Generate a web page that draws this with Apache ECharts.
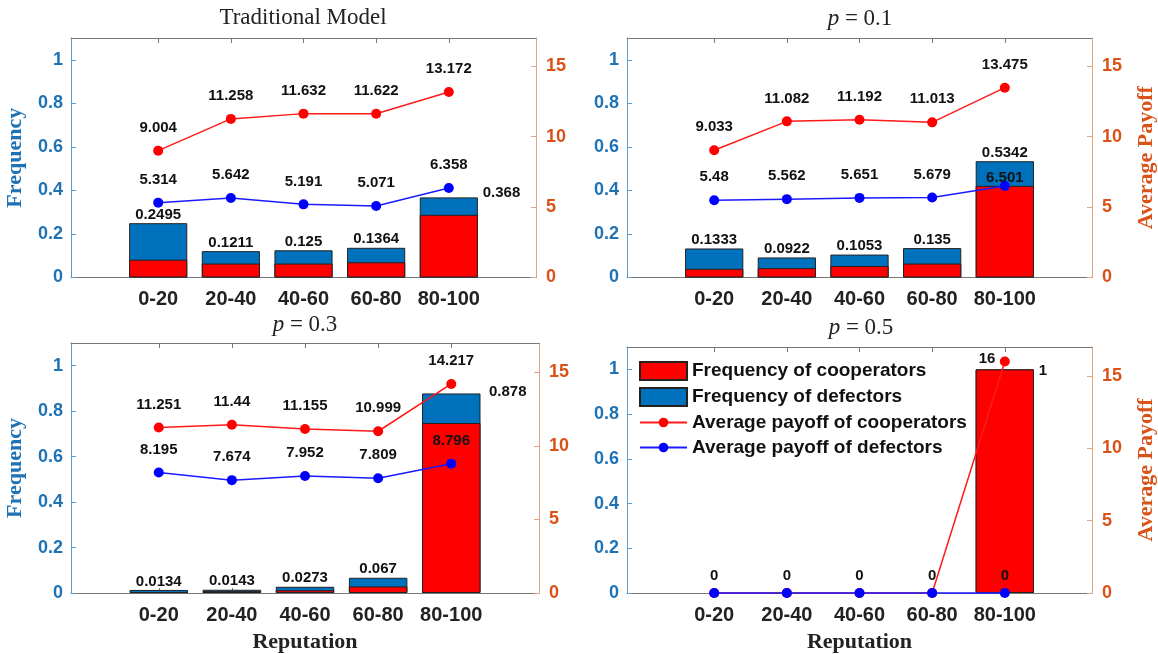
<!DOCTYPE html>
<html>
<head>
<meta charset="utf-8">
<title>Reputation</title>
<script src="https://cdn.jsdelivr.net/npm/echarts@6/dist/echarts.min.js"></script>
<style>
  html, body { margin: 0; padding: 0; background: #fff; }
  #main { width: 1158px; height: 654px; }
</style>
</head>
<body>
<div id="main"></div>
<script>
// reputation bins
const categories = ['0-20', '20-40', '40-60', '60-80', '80-100'];
const panelTitles = ['Traditional Model', '{i|p} = 0.1', '{i|p} = 0.3', '{i|p} = 0.5'];

// Traditional Model
const freqTotalTrad = [0.2495, 0.1211, 0.125, 0.1364, 0.368];
const freqCoopTrad = [0.082, 0.064, 0.064, 0.07, 0.288];
const payCoopTrad = [9.004, 11.258, 11.632, 11.622, 13.172];
const payDefTrad = [5.314, 5.642, 5.191, 5.071, 6.358];

// p = 0.1
const freqTotalP1 = [0.1333, 0.0922, 0.1053, 0.135, 0.5342];
const freqCoopP1 = [0.04, 0.043, 0.053, 0.064, 0.421];
const payCoopP1 = [9.033, 11.082, 11.192, 11.013, 13.475];
const payDefP1 = [5.48, 5.562, 5.651, 5.679, 6.501];

// p = 0.3
const freqTotalP3 = [0.0134, 0.0143, 0.0273, 0.067, 0.878];
const freqCoopP3 = [0.004, 0.008, 0.012, 0.029, 0.748];
const payCoopP3 = [11.251, 11.44, 11.155, 10.999, 14.217];
const payDefP3 = [8.195, 7.674, 7.952, 7.809, 8.796];

// p = 0.5
const freqTotalP5 = [0, 0, 0, 0, 1];
const freqCoopP5 = [0, 0, 0, 0, 1];
const payCoopP5 = [0, 0, 0, 0, 16];
const payDefP5 = [0, 0, 0, 0, 0];

const freqTicks = [0, 0.2, 0.4, 0.6, 0.8, 1];
const payTicks = [0, 5, 10, 15];
const catTicks = [1, 2, 3, 4, 5];

const panels = [
  { total: freqTotalTrad, coop: freqCoopTrad, payC: payCoopTrad, payD: payDefTrad },
  { total: freqTotalP1, coop: freqCoopP1, payC: payCoopP1, payD: payDefP1 },
  { total: freqTotalP3, coop: freqCoopP3, payC: payCoopP3, payD: payDefP3 },
  { total: freqTotalP5, coop: freqCoopP5, payC: payCoopP5, payD: payDefP5 },
];

// layout of the four axes boxes
const grids = [
  { left: 71, top: 38, width: 465, height: 239.5 },
  { left: 627, top: 38, width: 466, height: 239.5 },
  { left: 71, top: 343, width: 468, height: 250.3 },
  { left: 627, top: 347, width: 467, height: 246.3 },
];
const titlePos = [[303, 6], [860, 7], [305, 313], [861, 316]];
// label of the last bar sits right of its top in some panels
const lastBarLabel = [[63, -4.5], null, [67, -2], [63, 1]];

const SANS = '"Liberation Sans", Arial, sans-serif';
const SERIF = '"Liberation Serif", "Times New Roman", serif';
const BLUE_AX = '#1f72b4';
const ORANGE_AX = '#d95319';

// round marker with some empty margin, so the legend dot stays small
function dot(color) {
  const svg = "<svg xmlns='http://www.w3.org/2000/svg' width='30' height='30'>" +
    "<circle cx='15' cy='15' r='10' fill='" + color + "'/></svg>";
  return 'image://data:image/svg+xml;utf8,' + encodeURIComponent(svg);
}

const myChart = echarts.init(document.getElementById('main'));

const title = [];
const xAxis = [];
const yAxis = [];
const series = [];

panels.forEach((p, i) => {
  title.push({
    text: panelTitles[i],
    left: titlePos[i][0],
    top: titlePos[i][1],
    textAlign: 'center',
    padding: 0,
    textStyle: {
      fontFamily: SERIF,
      fontWeight: 'normal',
      fontSize: 23,
      color: '#222',
      rich: { i: { fontFamily: SERIF, fontStyle: 'italic', fontSize: 23, color: '#222' } },
    },
  });

  // bottom x axis
  xAxis.push({
    gridIndex: i,
    type: 'value',
    min: -0.2,
    max: 6.2,
    position: 'bottom',
    name: i >= 2 ? 'Reputation' : '',
    nameLocation: 'middle',
    nameGap: 38,
    nameTextStyle: { fontFamily: SERIF, fontWeight: 'bold', fontSize: 22, color: '#222' },
    axisLine: { onZero: false, lineStyle: { color: '#777', width: 1 } },
    axisTick: { inside: true, length: 5, customValues: catTicks, lineStyle: { color: '#777' } },
    axisLabel: {
      customValues: catTicks,
      formatter: v => categories[Math.round(v) - 1] || '',
      fontFamily: SANS, fontWeight: 'bold', fontSize: 20, color: '#222', margin: 12,
    },
    splitLine: { show: false },
  });
  // top border with ticks
  xAxis.push({
    gridIndex: i,
    type: 'value',
    min: -0.2,
    max: 6.2,
    position: 'top',
    axisLine: { onZero: false, lineStyle: { color: '#777', width: 1 } },
    axisTick: { inside: true, length: 5, customValues: catTicks, lineStyle: { color: '#777' } },
    axisLabel: { show: false },
    splitLine: { show: false },
  });

  yAxis.push({
    gridIndex: i,
    type: 'value',
    min: 0,
    max: 1.1,
    position: 'left',
    name: i % 2 === 0 ? 'Frequency' : '',
    nameLocation: 'middle',
    nameRotate: 90,
    nameGap: 45,
    nameTextStyle: { fontFamily: SERIF, fontWeight: 'bold', fontSize: 22, color: BLUE_AX },
    axisLine: { show: true, onZero: false, lineStyle: { color: '#5b9bd0', width: 1 } },
    axisTick: { show: true, inside: true, length: 5, customValues: freqTicks, lineStyle: { color: '#5b9bd0' } },
    axisLabel: {
      customValues: freqTicks,
      fontFamily: SANS, fontWeight: 'bold', fontSize: 18, color: BLUE_AX, margin: 8,
    },
    splitLine: { show: false },
  });
  yAxis.push({
    gridIndex: i,
    type: 'value',
    min: 0,
    max: 17,
    position: 'right',
    name: i % 2 === 1 ? 'Average Payoff' : '',
    nameLocation: 'middle',
    nameRotate: 90,
    nameGap: 43,
    nameTextStyle: { fontFamily: SERIF, fontWeight: 'bold', fontSize: 22, color: ORANGE_AX },
    axisLine: { show: true, onZero: false, lineStyle: { color: '#dba88c', width: 1 } },
    axisTick: { show: true, inside: true, length: 5, customValues: payTicks, lineStyle: { color: '#dba88c' } },
    axisLabel: {
      customValues: payTicks,
      fontFamily: SANS, fontWeight: 'bold', fontSize: 18, color: ORANGE_AX, margin: 10,
    },
    splitLine: { show: false },
  });

  const xb = i * 2;
  const yl = i * 2;
  const yr = i * 2 + 1;
  const barW = grids[i].width / 6.4 * 0.8;

  const labelStyle = { fontFamily: SANS, fontWeight: 'bold', fontSize: 15, color: '#111' };

  // total bar (its visible top part is the defectors)
  series.push({
    name: 'Frequency of defectors',
    type: 'bar',
    xAxisIndex: xb,
    yAxisIndex: yl,
    barWidth: barW,
    barGap: '-100%',
    itemStyle: { color: '#0072bd', borderColor: '#222', borderWidth: 1 },
    label: Object.assign({ show: true, position: 'top', distance: 1,
      formatter: d => String(d.value[1]) }, labelStyle),
    data: p.total.map((v, k) => {
      const item = { value: [k + 1, v === 0 ? '-' : v] };
      if (k === 4 && lastBarLabel[i]) {
        item.label = { position: lastBarLabel[i], align: 'left', verticalAlign: 'middle' };
      }
      return item;
    }),
    z: 2,
  });
  series.push({
    name: 'Frequency of cooperators',
    type: 'bar',
    xAxisIndex: xb,
    yAxisIndex: yl,
    barWidth: barW,
    barGap: '-100%',
    itemStyle: { color: '#ff0000', borderColor: '#222', borderWidth: 1 },
    data: p.coop.map((v, k) => [k + 1, v === 0 ? '-' : v]),
    z: 2,
  });

  const onlyLast = i === 3;
  series.push({
    name: 'Average payoff of cooperators',
    type: 'line',
    xAxisIndex: xb,
    yAxisIndex: yr,
    symbol: dot('#ff0000'),
    symbolSize: 15,
    clip: false,
    lineStyle: { color: '#ff1a1a', width: 1.5 },
    itemStyle: { color: '#ff0000' },
    label: Object.assign({ show: true, position: 'top', distance: 8,
      formatter: d => String(d.value[1]) }, labelStyle),
    data: p.payC.map((v, k) => {
      const item = { value: [k + 1, v] };
      if (onlyLast) {
        item.label = k === 4 ? { show: true, position: 'left', distance: 2, offset: [0, -3] } : { show: false };
      }
      return item;
    }),
    z: 3,
  });
  series.push({
    name: 'Average payoff of defectors',
    type: 'line',
    xAxisIndex: xb,
    yAxisIndex: yr,
    symbol: dot('#0000ff'),
    symbolSize: 15,
    clip: false,
    lineStyle: { color: '#1a1aff', width: 1.5 },
    itemStyle: { color: '#0000ff' },
    label: Object.assign({ show: true, position: 'top', distance: onlyLast ? 2 : 8,
      formatter: d => String(d.value[1]) }, labelStyle),
    data: p.payD.map((v, k) => {
      const item = { value: [k + 1, v] };
      // p = 0.1: the last label sits just over its dot, inside the bar
      if (i === 1 && k === 4) item.label = { distance: -7 };
      return item;
    }),
    z: 4,
  });
});

const option = {
  animation: false,
  backgroundColor: '#fff',
  title: title,
  grid: grids.map(g => Object.assign({ show: false, containLabel: false }, g)),
  xAxis: xAxis,
  yAxis: yAxis,
  legend: {
    left: 634,
    top: 356,
    orient: 'vertical',
    itemWidth: 47,
    itemHeight: 18,
    itemGap: 6,
    textStyle: { fontFamily: SANS, fontWeight: 'bold', fontSize: 19, color: '#111' },
    data: [
      { name: 'Frequency of cooperators', icon: 'rect' },
      { name: 'Frequency of defectors', icon: 'rect' },
      'Average payoff of cooperators',
      'Average payoff of defectors',
    ],
  },
  series: series,
};

myChart.setOption(option);
</script>
</body>
</html>
